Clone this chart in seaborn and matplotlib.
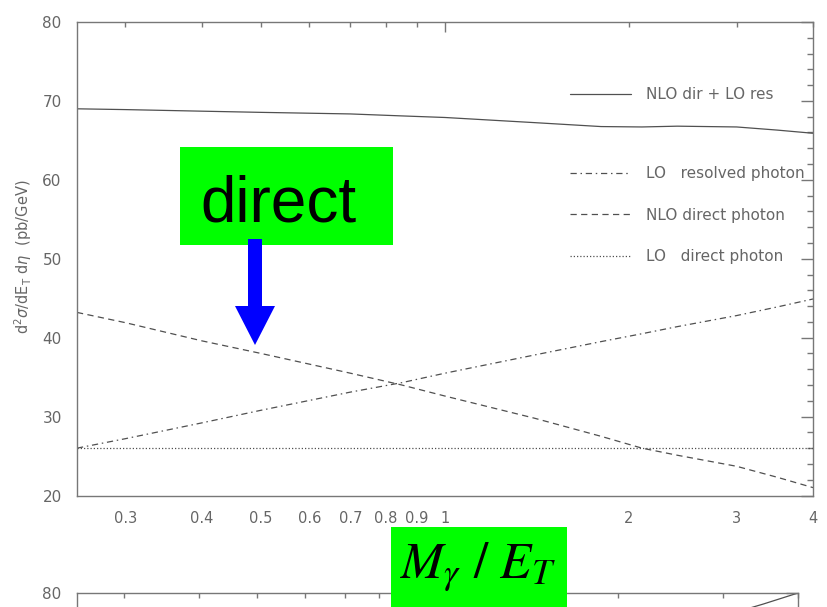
import numpy as np
import pandas as pd
import matplotlib
matplotlib.use('Agg')
import matplotlib.pyplot as plt
import seaborn as sns
from matplotlib.patches import Rectangle, FancyArrow
from matplotlib.transforms import IdentityTransform
from matplotlib.ticker import FixedLocator, FixedFormatter, MultipleLocator, NullFormatter

# scale ratio M_gamma / E_T and cross sections (pb/GeV)
x_scale = [0.25, 0.3, 0.4, 0.5, 0.7, 0.85, 1.0, 1.4, 1.8, 2.1, 2.4, 3.0, 3.5, 4.0]
nlo_dir_lo_res = [69.0, 68.9, 68.7, 68.55, 68.35, 68.1, 67.9, 67.25, 66.75, 66.7, 66.8, 66.7, 66.3, 65.9]
lo_resolved = [26.0, 27.2, 29.2, 30.8, 33.1, 34.3, 35.5, 37.8, 39.5, 40.5, 41.4, 42.8, 43.9, 44.9]
nlo_direct = [43.2, 41.9, 39.6, 38.0, 35.5, 34.0, 32.6, 29.8, 27.5, 26.0, 25.1, 23.7, 22.3, 21.0]
lo_direct = [26.0, 26.0, 26.0, 26.0, 26.0, 26.0, 26.0, 26.0, 26.0, 26.0, 26.0, 26.0, 26.0, 26.0]

series_labels = ['NLO dir + LO res', 'LO   resolved photon', 'NLO direct photon', 'LO   direct photon']

# the next panel, only its top edge is visible
lower_x = [3.0, 3.5, 4.0]
lower_y = [77.1, 78.6, 80.0]

x_minor_ticks = [0.3, 0.4, 0.5, 0.6, 0.7, 0.8, 0.9, 2, 3, 4]
x_minor_labels = ['0.3', '0.4', '0.5', '0.6', '0.7', '0.8', '0.9', '2', '3', '4']
y_ticks = [20, 30, 40, 50, 60, 70, 80]
y_labels = ['20', '30', '40', '50', '60', '70', '80']

sns.set_style('white')
plt.rcParams['font.family'] = ['DejaVu Sans']

line_col = '#505050'
axis_col = '#777777'
text_col = '#666666'


def style_axes(ax, ylabels):
    ax.set_xscale('log')
    ax.set_xlim(0.25, 4)
    ax.set_ylim(20, 80)
    ax.xaxis.set_major_locator(FixedLocator([1]))
    ax.xaxis.set_major_formatter(FixedFormatter(['1']))
    ax.xaxis.set_minor_locator(FixedLocator(x_minor_ticks))
    ax.xaxis.set_minor_formatter(FixedFormatter(x_minor_labels))
    ax.yaxis.set_major_locator(FixedLocator(y_ticks))
    ax.yaxis.set_major_formatter(FixedFormatter(ylabels))
    ax.yaxis.set_minor_locator(MultipleLocator(2))
    ax.yaxis.set_minor_formatter(NullFormatter())
    ax.tick_params(axis='both', which='both', direction='in', top=True, right=True,
                   color=axis_col, labelcolor=text_col, width=1.0)
    ax.tick_params(axis='x', which='major', length=7, labelsize=10.5, pad=11)
    ax.tick_params(axis='x', which='minor', length=3.6, labelsize=10.5, pad=11)
    ax.tick_params(axis='y', which='major', length=8.6, labelsize=11, pad=11)
    ax.tick_params(axis='y', which='minor', length=4.3)
    for sp in ax.spines.values():
        sp.set_color(axis_col)
        sp.set_linewidth(1.0)
    ax.set_xlabel('')


fig = plt.figure(figsize=(8.27, 6.07), dpi=100)
ax = fig.add_axes([77 / 827, 1 - 495.5 / 607, 736 / 827, 473.5 / 607])

styles = ['-', (0, (5, 3, 1.2, 3)), (0, (5, 3.5)), (0, (1, 1.6))]
for yvals, lab, ls in zip([nlo_dir_lo_res, lo_resolved, nlo_direct, lo_direct], series_labels, styles):
    sns.lineplot(x=x_scale, y=yvals, ax=ax, color=line_col, linestyle=ls, lw=0.9, label=lab)

style_axes(ax, y_labels)
ax.set_ylabel(r'd$^2\sigma$/dE$_\mathrm{T}$ d$\eta$  (pb/GeV)', fontsize=10.5, color=text_col)
ax.yaxis.set_label_coords(-0.058, 0.505)

handles, labels = ax.get_legend_handles_labels()
leg1 = ax.legend(handles[:1], labels[:1], loc='upper left',
                 bbox_to_anchor=(570 / 827, 1 - 87 / 607), bbox_transform=fig.transFigure,
                 frameon=False, borderpad=0, borderaxespad=0, handlelength=4.0,
                 handletextpad=1.0, fontsize=11, labelcolor=text_col)
ax.add_artist(leg1)
ax.legend(handles[1:], labels[1:], loc='upper left',
          bbox_to_anchor=(570 / 827, 1 - 166 / 607), bbox_transform=fig.transFigure,
          frameon=False, borderpad=0, borderaxespad=0, handlelength=4.0,
          handletextpad=1.0, labelspacing=1.75, fontsize=11, labelcolor=text_col)

# second panel, mostly cut off below the picture
ax2 = fig.add_axes([77 / 827, 1 - 593 / 607 - 473.5 / 607, 721 / 827, 473.5 / 607])
sns.lineplot(x=lower_x, y=lower_y, ax=ax2, color=line_col, lw=0.9)
style_axes(ax2, ['', '', '', '', '', '', '80'])
ax2.tick_params(axis='x', which='both', labelbottom=False)
ax2.set_ylabel('')

# green "direct" label with blue arrow
fig.add_artist(Rectangle((180 / 827, 1 - 245 / 607), 213 / 827, 98 / 607,
                         transform=fig.transFigure, fc='#00ff00', ec='none', zorder=5))
fig.text(200 / 827, 1 - 221.5 / 607, 'direct', fontsize=46, family='Liberation Sans',
         color='black', ha='left', va='baseline', zorder=6)
fig.add_artist(FancyArrow(255, 607 - 239, 0, -106, width=14, head_width=40, head_length=39,
                          length_includes_head=True, color='#0000ff', lw=0,
                          transform=IdentityTransform(), zorder=6))

# green axis label box
fig.add_artist(Rectangle((391 / 827, -0.01), 176 / 827, 80 / 607 + 0.01,
                         transform=fig.transFigure, fc='#00ff00', ec='none', zorder=5))
fig.text(400 / 827, 1 - 578 / 607, r'$M_{\gamma}\ /\ E_T$', fontsize=37, math_fontfamily='stix',
         color='black', ha='left', va='baseline', zorder=6)

fig.savefig('out.png', dpi=100)
